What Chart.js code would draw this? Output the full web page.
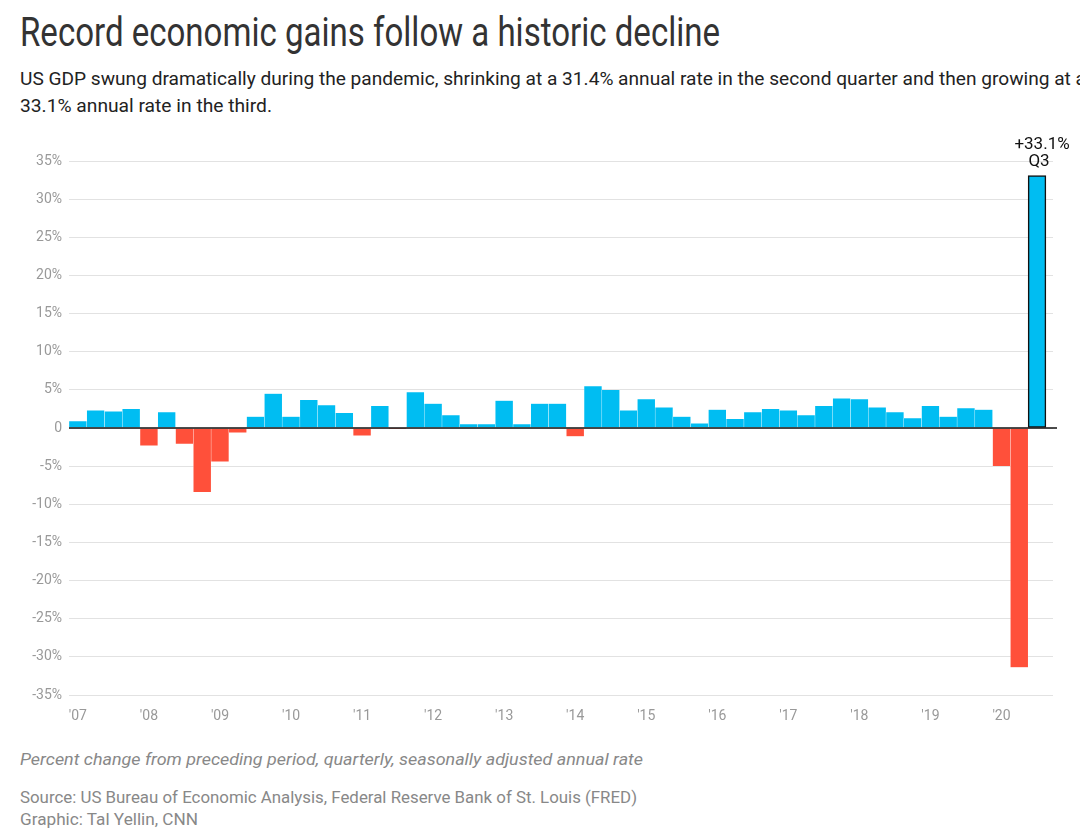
<!DOCTYPE html>
<html>
<head>
<meta charset="utf-8">
<script src="https://cdn.jsdelivr.net/npm/chart.js@4.4.1/dist/chart.umd.min.js"></script>
<style>
  html, body { margin:0; padding:0; background:#fff; }
  body { width:1080px; height:835px; position:relative; overflow:hidden; font-family: Roboto, "Noto Sans", sans-serif; }
  .txt { position:absolute; left:20px; white-space:nowrap; transform-origin:0 50%; }
  #title { top:13px; font-size:40px; line-height:40px; color:#333; }
  #sub1 { top:65px; font-size:19px; line-height:27px; color:#222; }
  #sub2 { top:92px; font-size:19px; line-height:27px; color:#222; }
  #note { top:750px; font-size:16px; line-height:20px; color:#888; font-style:italic; }
  #src { top:788px; font-size:16px; line-height:20px; color:#888; }
  #graphic { top:810px; font-size:16px; line-height:20px; color:#888; }
  #wrap { position:absolute; left:0; top:120px; width:1080px; height:615px; }
</style>
</head>
<body>
<div class="txt" id="title" data-w="700">Record economic gains follow a historic decline</div>
<div class="txt" id="sub1" data-w="1066">US GDP swung dramatically during the pandemic, shrinking at a 31.4% annual rate in the second quarter and then growing at a</div>
<div class="txt" id="sub2" data-w="252">33.1% annual rate in the third.</div>
<div id="wrap"><canvas id="c"></canvas></div>
<div class="txt" id="note" data-w="623">Percent change from preceding period, quarterly, seasonally adjusted annual rate</div>
<div class="txt" id="src" data-w="617">Source: US Bureau of Economic Analysis, Federal Reserve Bank of St. Louis (FRED)</div>
<div class="txt" id="graphic" data-w="178">Graphic: Tal Yellin, CNN</div>
<script>
// ---- data ----
const quarters = [
  "Q1","Q2","Q3","Q4", "Q1","Q2","Q3","Q4", "Q1","Q2","Q3","Q4", "Q1","Q2","Q3","Q4",
  "Q1","Q2","Q3","Q4", "Q1","Q2","Q3","Q4", "Q1","Q2","Q3","Q4", "Q1","Q2","Q3","Q4",
  "Q1","Q2","Q3","Q4", "Q1","Q2","Q3","Q4", "Q1","Q2","Q3","Q4", "Q1","Q2","Q3","Q4",
  "Q1","Q2","Q3","Q4", "Q1","Q2","Q3"
];
const yearLabels = ["'07","'08","'09","'10","'11","'12","'13","'14","'15","'16","'17","'18","'19","'20"];
const gdpGrowth = [
  0.9, 2.3, 2.2, 2.5,     // 2007
  -2.3, 2.1, -2.1, -8.4,  // 2008
  -4.4, -0.6, 1.5, 4.5,   // 2009
  1.5, 3.7, 3.0, 2.0,     // 2010
  -1.0, 2.9, -0.1, 4.7,   // 2011
  3.2, 1.7, 0.5, 0.5,     // 2012
  3.6, 0.5, 3.2, 3.2,     // 2013
  -1.1, 5.5, 5.0, 2.3,    // 2014
  3.8, 2.7, 1.5, 0.6,     // 2015
  2.4, 1.2, 2.1, 2.5,     // 2016
  2.3, 1.7, 2.9, 3.9,     // 2017
  3.8, 2.7, 2.1, 1.3,     // 2018
  2.9, 1.5, 2.6, 2.4,     // 2019
  -5.0, -31.4, 33.1       // 2020
];
const yTicks = [-35,-30,-25,-20,-15,-10,-5,0,5,10,15,20,25,30,35];

const BLUE = "#00bdf2", RED = "#ff503a";

function fitText() {
  document.querySelectorAll('.txt').forEach(el => {
    el.style.transform = 'none';
    const w = el.getBoundingClientRect().width;
    const target = +el.dataset.w;
    if (w > 0) el.style.transform = 'scaleX(' + (target / w) + ')';
  });
}

function build() {
  fitText();
  const last = gdpGrowth.length - 1;
  const points = gdpGrowth.map((v, i) => ({ x: i, y: v }));
  const yearTickIdx = yearLabels.map((_, k) => k * 4);

  const zeroAndAnnot = {
    id: 'zeroAndAnnot',
    afterDatasetsDraw(chart) {
      const { ctx, chartArea, scales } = chart;
      const y0 = scales.y.getPixelForValue(0);
      ctx.save();
      ctx.strokeStyle = '#111';
      ctx.lineWidth = 1.5;
      ctx.beginPath();
      ctx.moveTo(chartArea.left, y0);
      ctx.lineTo(chartArea.right + 4, y0);
      ctx.stroke();
      const bar = chart.getDatasetMeta(0).data[last];
      ctx.fillStyle = '#111';
      ctx.font = '17px Roboto, sans-serif';
      ctx.textAlign = 'center';
      ctx.textBaseline = 'alphabetic';
      ctx.fillText('+' + gdpGrowth[last] + '%', bar.x + 5, bar.y - 26);
      ctx.fillText(quarters[last], bar.x + 2, bar.y - 9);
      ctx.restore();
    }
  };

  new Chart(document.getElementById('c'), {
    type: 'bar',
    data: {
      datasets: [{
        data: points,
        backgroundColor: gdpGrowth.map(v => v < 0 ? RED : BLUE),
        borderColor: gdpGrowth.map((v, i) => i === last ? '#111' : 'rgba(255,255,255,0.35)'),
        borderWidth: gdpGrowth.map((v, i) => i === last ? 1.5 : 0.5),
        borderSkipped: false,
        barPercentage: 1,
        categoryPercentage: 1
      }]
    },
    options: {
      responsive: true,
      maintainAspectRatio: false,
      animation: false,
      layout: { padding: { top: 41, right: 27, bottom: 0, left: 0 } },
      plugins: { legend: { display: false }, tooltip: { enabled: false } },
      scales: {
        x: {
          type: 'linear',
          offset: false,
          min: -0.5,
          max: 54.9,
          afterBuildTicks: s => { s.ticks = yearTickIdx.map(v => ({ value: v })); },
          afterFit: s => { s.height = 40; },
          grid: { display: false, drawTicks: false },
          border: { display: false },
          ticks: {
            autoSkip: false, maxRotation: 0, padding: 13,
            color: '#999', font: { family: 'Roboto', size: 14 },
            callback: v => yearLabels[Math.round(v / 4)]
          }
        },
        y: {
          min: -35, max: 35,
          afterBuildTicks: s => { s.ticks = yTicks.map(v => ({ value: v })); },
          afterFit: s => { s.width = 69; },
          grid: { color: '#e2e2e2', lineWidth: 1, drawTicks: false },
          border: { display: false },
          ticks: {
            padding: 7, color: '#999', font: { family: 'Roboto', size: 14 },
            callback: v => v === 0 ? '0' : v + '%'
          }
        }
      }
    },
    plugins: [zeroAndAnnot]
  });
}

if (document.fonts && document.fonts.ready) {
  document.fonts.load('40px Roboto').then(() => document.fonts.ready).then(build, build);
} else { build(); }
</script>
</body>
</html>
